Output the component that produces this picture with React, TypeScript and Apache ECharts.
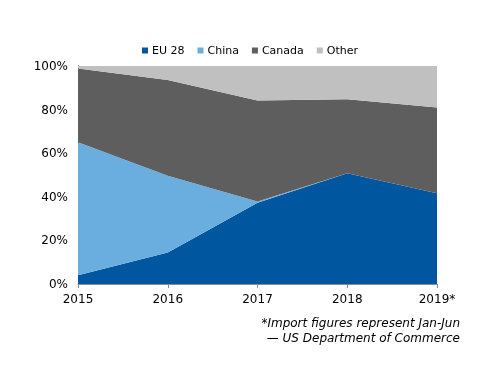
import React, { useEffect, useRef } from "react";
import * as echarts from "echarts";

const categories = ["2015", "2016", "2017", "2018", "2019*"];
const eu28 = [4, 14.4, 37.3, 50.8, 41.6];
const china = [61, 35.3, 0.5, 0, 0];
const canada = [33.8, 43.9, 46.4, 33.9, 39.4];
const other = [1.2, 6.4, 15.8, 15.3, 19];
const yTicks = [0, 20, 40, 60, 80, 100];
const notes = ["*Import figures represent Jan-Jun", "— US Department of Commerce"];

const FONT = "DejaVu Sans";

export default function App() {
  const ref = useRef<HTMLDivElement>(null);
  useEffect(() => {
    if (!ref.current) return;
    const chart = echarts.init(ref.current, undefined, { renderer: "svg" });
    const mk = (name: string, data: number[], color: string) => ({
      name,
      type: "line",
      stack: "total",
      data,
      symbol: "none",
      lineStyle: { width: 0 },
      areaStyle: { color, opacity: 1 },
      itemStyle: { color },
    });
    chart.setOption({
      animation: false,
      textStyle: { fontFamily: FONT },
      legend: {
        top: 40,
        left: "center",
        itemWidth: 6,
        itemHeight: 6,
        itemGap: 13,
        icon: "rect",
        textStyle: { fontFamily: FONT, fontSize: 11, color: "#000", padding: [0, 0, 0, -1] },
        data: ["EU 28", "China", "Canada", "Other"],
      },
      grid: { left: 78, right: 63, top: 66, bottom: 102 },
      xAxis: {
        type: "category",
        data: categories,
        boundaryGap: false,
        axisLine: { lineStyle: { color: "#8a8a9a", width: 1 } },
        axisTick: { show: true, length: 4, lineStyle: { color: "#8a8a9a" } },
        axisLabel: { color: "#000", fontSize: 12, fontFamily: FONT, margin: 9 },
      },
      yAxis: {
        type: "value",
        min: 0,
        max: 100,
        interval: 20,
        axisLine: { show: true, lineStyle: { color: "#000", width: 1 } },
        axisTick: { show: false },
        splitLine: { show: false },
        axisLabel: {
          color: "#000",
          fontSize: 12,
          fontFamily: FONT,
          margin: 10,
          formatter: (v: number) => (yTicks.includes(v) ? v + "%" : ""),
        },
      },
      graphic: notes.map((t, i) => ({
        type: "text",
        x: 460,
        y: 317 + i * 15,
        style: {
          text: t,
          align: "right",
          verticalAlign: "top",
          fontFamily: FONT,
          fontStyle: "italic",
          fontSize: 12,
          fill: "#000",
        },
      })),
      series: [
        mk("EU 28", eu28, "#0057a0"),
        mk("China", china, "#6aaee0"),
        mk("Canada", canada, "#5e5e5e"),
        mk("Other", other, "#c0c0c0"),
      ],
    });
    return () => chart.dispose();
  }, []);
  return (
    <div
      ref={ref}
      style={{ position: "fixed", left: 0, top: 0, width: 500, height: 386 }}
    />
  );
}
